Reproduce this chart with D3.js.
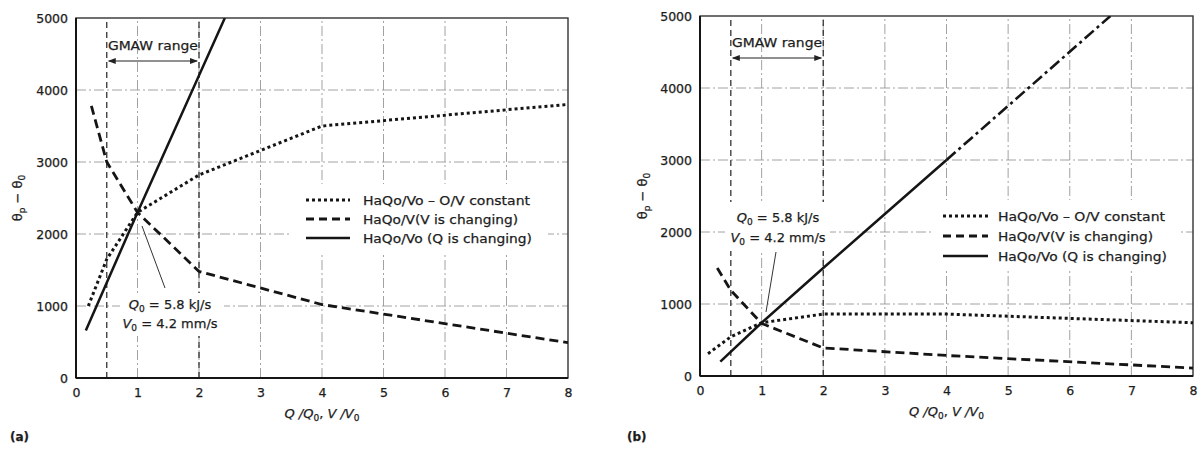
<!DOCTYPE html>
<html><head><meta charset="utf-8">
<script src="https://cdn.jsdelivr.net/npm/d3@7"></script>
<style>body{margin:0;background:#fff}svg{display:block}</style>
</head><body><svg id="c" width="1200" height="452"></svg>
<script>
// ---------- data ----------
const xTicks = [0,1,2,3,4,5,6,7,8];
const yTicks = [0,1000,2000,3000,4000,5000];
const gmawRange = [0.5, 2];
const legendLabels = ["HaQo/Vo – O/V constant", "HaQo/V(V is changing)", "HaQo/Vo (Q is changing)"];

// panel (a)
const aConstX = [0.2, 0.5, 1, 2, 4, 8];
const aConstY = [1000, 1650, 2300, 2820, 3500, 3800];
const aVX = [0.25, 0.5, 1, 2, 4, 8];
const aVY = [3780, 3000, 2300, 1480, 1020, 490];
const aQX = [0.16, 1, 2, 2.42];
const aQY = [660, 2300, 4200, 5000];

// panel (b)
const bConstX = [0.13, 0.5, 1, 2, 4, 8];
const bConstY = [310, 545, 740, 860, 860, 740];
const bVX = [0.28, 0.5, 1, 2, 4, 8];
const bVY = [1500, 1190, 730, 390, 285, 110];
const bQX = [0.33, 1, 2, 3, 4];
const bQY = [200, 740, 1500, 2250, 3000];
const bQextX = [4, 6.66];
const bQextY = [3000, 5000];

const zip = (xs, ys) => xs.map((x, i) => [x, ys[i]]);
const svg = d3.select("#c");
const FONT = "DejaVu Sans, Liberation Sans, Arial, sans-serif";
const INK = "#151515";
const TXT = "#1c1c1c";

function styleText(sel) {
  return sel.attr("font-family", FONT).attr("fill", TXT).attr("stroke", TXT).attr("stroke-width", 0.25);
}

function panel(cfg) {
  const x = d3.scaleLinear().domain([0, 8]).range([cfg.x0, cfg.x1]);
  const y = d3.scaleLinear().domain([0, 5000]).range([cfg.y0, cfg.y1]);
  const g = svg.append("g");

  // grid
  g.selectAll(".vg").data(xTicks.filter(t => t > 0 && t < 8)).enter().append("line")
    .attr("x1", d => x(d)).attr("x2", d => x(d)).attr("y1", y(0)).attr("y2", y(5000))
    .attr("stroke", "#8a8a8a").attr("stroke-width", 0.8).attr("stroke-dasharray", "10,3,2,3");
  g.selectAll(".hg").data(yTicks.filter(t => t > 0 && t < 5000)).enter().append("line")
    .attr("x1", x(0)).attr("x2", x(8)).attr("y1", d => y(d)).attr("y2", d => y(d))
    .attr("stroke", "#8a8a8a").attr("stroke-width", 0.8).attr("stroke-dasharray", "10,3,2,3");
  // GMAW range dashed verticals
  g.selectAll(".gm").data(gmawRange).enter().append("line")
    .attr("x1", d => x(d)).attr("x2", d => x(d)).attr("y1", y(0)).attr("y2", y(5000))
    .attr("stroke", "#333").attr("stroke-width", 1.3).attr("stroke-dasharray", "6,4");

  // white boxes (legend / annotation)
  g.append("rect").attr("x", cfg.legBox[0]).attr("y", cfg.legBox[1]).attr("width", cfg.legBox[2]).attr("height", cfg.legBox[3]).attr("fill", "#fff");
  g.append("rect").attr("x", cfg.annBox[0]).attr("y", cfg.annBox[1]).attr("width", cfg.annBox[2]).attr("height", cfg.annBox[3]).attr("fill", "#fff");

  // frame
  g.append("rect").attr("x", x(0)).attr("y", y(5000)).attr("width", x(8) - x(0)).attr("height", y(0) - y(5000))
    .attr("fill", "none").attr("stroke", "#333").attr("stroke-width", 1.4);
  g.append("line").attr("x1", x(0)).attr("x2", x(0)).attr("y1", y(0)).attr("y2", y(5000)).attr("stroke", INK).attr("stroke-width", 2);
  g.append("line").attr("x1", x(0)).attr("x2", x(8)).attr("y1", y(0)).attr("y2", y(0)).attr("stroke", INK).attr("stroke-width", 2);

  // tick labels via axes (no tick lines)
  const xa = g.append("g").attr("transform", `translate(0,${y(0)})`)
    .call(d3.axisBottom(x).tickValues(xTicks).tickSize(0).tickPadding(10).tickFormat(d3.format("d")));
  const ya = g.append("g").attr("transform", `translate(${x(0)},0)`)
    .call(d3.axisLeft(y).tickValues(yTicks).tickSize(0).tickPadding(8).tickFormat(d3.format("d")));
  [xa, ya].forEach(a => {
    a.select(".domain").remove();
    styleText(a.selectAll("text")).attr("font-size", 12.5);
  });

  // curves
  const line = d3.line().x(d => x(d[0])).y(d => y(d[1]));
  const clip = "clip" + cfg.id;
  g.append("clipPath").attr("id", clip).append("rect")
    .attr("x", x(0)).attr("y", y(5000)).attr("width", x(8) - x(0)).attr("height", y(0) - y(5000));
  const cg = g.append("g").attr("clip-path", `url(#${clip})`);
  cg.append("path").attr("d", line(cfg.constData)).attr("fill", "none").attr("stroke", INK)
    .attr("stroke-width", 3).attr("stroke-dasharray", "3,3");
  cg.append("path").attr("d", line(cfg.vData)).attr("fill", "none").attr("stroke", INK)
    .attr("stroke-width", 2.8).attr("stroke-dasharray", "9,5");
  cg.append("path").attr("d", line(cfg.qData)).attr("fill", "none").attr("stroke", INK)
    .attr("stroke-width", 2.5);
  if (cfg.qExt) {
    cg.append("path").attr("d", line(cfg.qExt)).attr("fill", "none").attr("stroke", INK)
      .attr("stroke-width", 2.6).attr("stroke-dasharray", "12,4,3,4");
  }

  // GMAW range label + arrow
  const ay = cfg.arrowY;
  styleText(g.append("text")).attr("x", (x(gmawRange[0]) + x(gmawRange[1])) / 2).attr("y", ay - 11)
    .attr("text-anchor", "middle").attr("font-size", 13)
    .attr("textLength", 90).attr("lengthAdjust", "spacingAndGlyphs").text("GMAW range");
  g.append("line").attr("x1", x(gmawRange[0]) + 2).attr("x2", x(gmawRange[1]) - 2).attr("y1", ay).attr("y2", ay)
    .attr("stroke", "#222").attr("stroke-width", 1.2);
  const ah = (px, dir) => g.append("path")
    .attr("d", `M${px},${ay} l${-dir * 8},-3 l0,6 Z`).attr("fill", "#222");
  ah(x(gmawRange[0]) + 1, -1);
  ah(x(gmawRange[1]) - 1, 1);

  // annotation
  const an = cfg.ann;
  g.append("line").attr("x1", an.lead[0]).attr("y1", an.lead[1]).attr("x2", an.lead[2]).attr("y2", an.lead[3])
    .attr("stroke", "#333").attr("stroke-width", 1);
  const t1 = styleText(g.append("text")).attr("x", an.cx).attr("y", an.y1).attr("text-anchor", "middle").attr("font-size", 13);
  t1.append("tspan").attr("font-style", "italic").text("Q");
  t1.append("tspan").attr("font-size", 9).attr("dy", 3).text("0");
  t1.append("tspan").attr("dy", -3).text(" = 5.8 kJ/s");
  const t2 = styleText(g.append("text")).attr("x", an.cx).attr("y", an.y2).attr("text-anchor", "middle").attr("font-size", 13);
  t2.append("tspan").attr("font-style", "italic").text("V");
  t2.append("tspan").attr("font-size", 9).attr("dy", 3).text("0");
  t2.append("tspan").attr("dy", -3).text(" = 4.2 mm/s");

  // legend
  const lg = cfg.leg;
  const styles = [{w: 3, da: "3,3"}, {w: 2.8, da: "8,5"}, {w: 2.5, da: null}];
  const widths = [167, 155, 169];
  legendLabels.forEach((lab, i) => {
    const yy = lg.y + i * lg.dy;
    const l = g.append("line").attr("x1", lg.x0).attr("x2", lg.x1).attr("y1", yy).attr("y2", yy)
      .attr("stroke", INK).attr("stroke-width", styles[i].w);
    if (styles[i].da) l.attr("stroke-dasharray", styles[i].da);
    styleText(g.append("text")).attr("x", lg.tx).attr("y", yy + 4.5).attr("font-size", 13)
      .attr("textLength", widths[i]).attr("lengthAdjust", "spacingAndGlyphs").text(lab);
  });

  // axis titles
  const xt = styleText(g.append("text")).attr("x", x(4)).attr("y", y(0) + 40).attr("text-anchor", "middle")
    .attr("font-size", 13).attr("font-style", "italic");
  xt.append("tspan").text("Q /Q");
  xt.append("tspan").attr("font-size", 9).attr("dy", 3).attr("font-style", "normal").text("0");
  xt.append("tspan").attr("dy", -3).attr("font-style", "normal").text(", ");
  xt.append("tspan").text("V /V");
  xt.append("tspan").attr("font-size", 9).attr("dy", 3).attr("font-style", "normal").text("0");

  const yt = styleText(g.append("text")).attr("transform", `translate(${cfg.ylabX},${cfg.ylabY}) rotate(-90)`)
    .attr("text-anchor", "middle").attr("font-size", 13);
  yt.append("tspan").text("θ");
  yt.append("tspan").attr("font-size", 9).attr("dy", 3).text("p");
  yt.append("tspan").attr("dy", -3).text(" − θ");
  yt.append("tspan").attr("font-size", 9).attr("dy", 3).text("0");

  styleText(g.append("text")).attr("x", cfg.tagX).attr("y", 441).attr("font-size", 12)
    .attr("font-weight", "bold").text(cfg.tag);
}

panel({
  id: "a", x0: 76, x1: 568, y0: 378, y1: 18,
  constData: zip(aConstX, aConstY), vData: zip(aVX, aVY), qData: zip(aQX, aQY),
  legBox: [290, 184, 258, 68], annBox: [120, 293, 104, 43],
  arrowY: 61,
  ann: {cx: 170, y1: 309, y2: 328, lead: [142, 226, 165, 288]},
  leg: {x0: 306, x1: 350, tx: 363, y: 200, dy: 19},
  ylabX: 22, ylabY: 198, tag: "(a)", tagX: 10
});
panel({
  id: "b", x0: 700, x1: 1193, y0: 376, y1: 16,
  constData: zip(bConstX, bConstY), vData: zip(bVX, bVY), qData: zip(bQX, bQY), qExt: zip(bQextX, bQextY),
  legBox: [932, 200, 248, 68], annBox: [725, 202, 105, 49],
  arrowY: 58,
  ann: {cx: 778, y1: 222, y2: 242, lead: [776, 252, 766, 312]},
  leg: {x0: 943, x1: 988, tx: 998, y: 216, dy: 20},
  ylabX: 647, ylabY: 196, tag: "(b)", tagX: 627
});
</script></body></html>
